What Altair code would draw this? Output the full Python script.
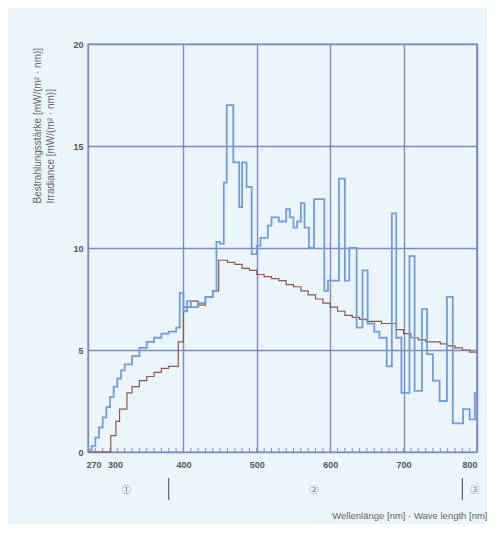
import altair as alt
import pandas as pd

# ---- data ----
blue_nm = [270, 275, 280, 285, 290, 295, 300, 305, 310, 315, 320, 330, 340, 350, 360, 370, 380, 390,
           395, 400, 405, 410, 420, 430, 440, 445, 450, 455, 459, 468, 476, 480, 486, 493, 500, 505,
           515, 520, 530, 540, 545, 550, 555, 560, 565, 571, 578, 592, 597, 612, 620, 626, 636, 644,
           651, 660, 667, 677, 684, 690, 697, 708, 715, 725, 732, 740, 749, 759, 767, 781, 790, 797, 800]
blue_val = [0.1, 0.3, 0.7, 1.2, 1.7, 2.2, 2.7, 3.2, 3.6, 4.0, 4.3, 4.7, 5.1, 5.4, 5.6, 5.8, 5.9, 6.1,
            7.8, 6.9, 7.4, 7.1, 7.3, 7.6, 7.9, 10.3, 10.2, 13.2, 17.0, 14.2, 12.0, 14.2, 13.0, 9.7, 10.1, 10.5,
            11.1, 11.5, 11.3, 11.9, 11.5, 11.0, 11.3, 12.2, 11.0, 10.0, 12.4, 7.9, 8.4, 13.4, 8.4, 10.0, 6.1, 8.9,
            6.3, 5.9, 5.6, 4.2, 11.7, 5.6, 2.9, 9.6, 3.0, 7.0, 4.8, 3.5, 2.5, 7.6, 1.4, 2.1, 1.6, 2.9, 2.9]

brown_nm = [270, 301, 308, 313, 323, 330, 340, 350, 360, 370, 380, 393, 400, 410, 420, 430, 440, 448,
            460, 470, 480, 490, 500, 510, 520, 530, 540, 550, 560, 570, 580, 590, 600, 610, 620, 630,
            640, 650, 660, 670, 680, 690, 700, 710, 720, 730, 740, 750, 760, 770, 780, 790, 800]
brown_val = [0.0, 0.8, 1.5, 2.1, 2.9, 3.2, 3.5, 3.7, 3.9, 4.1, 4.2, 5.4, 7.1, 7.4, 7.2, 7.6, 7.9, 9.4,
             9.3, 9.2, 9.0, 8.9, 8.7, 8.6, 8.5, 8.4, 8.2, 8.1, 7.9, 7.7, 7.5, 7.3, 7.1, 6.9, 6.7, 6.6,
             6.5, 6.4, 6.4, 6.3, 6.3, 6.0, 5.8, 5.6, 5.5, 5.4, 5.4, 5.3, 5.2, 5.1, 5.0, 4.9, 4.9]

x_labels = [270, 300, 400, 500, 600, 700, 800]
y_labels = [0, 5, 10, 15, 20]
minor_ticks = list(range(280, 800, 10))
region_bounds = [380, 780]
region_pos = [322, 578, 797]
region_text = ["①", "②", "③"]

W, H = 389, 408
GRID = "#7f8cbf"
BG = "#eaf5fc"

xs = alt.Scale(domain=[270, 800], nice=False, zero=False)
ys = alt.Scale(domain=[0, 20], nice=False)

blue_df = pd.DataFrame({"nm": blue_nm, "v": blue_val})
brown_df = pd.DataFrame({"nm": brown_nm, "v": brown_val})

x_axis = alt.Axis(values=x_labels, grid=True, gridColor=GRID, gridWidth=1.4,
                  gridOpacity=alt.ExprRef("datum.value == 300 ? 0 : 1"),
                  ticks=False, domainColor=GRID, labelFontSize=9, labelColor="#555",
                  labelFont="Liberation Sans", labelPadding=8, labelFontWeight="bold",
                  labelOverlap=False,
                  labelOffset=alt.ExprRef("datum.value == 270 ? -2 : (datum.value == 300 ? 5 : 0)"),
                  title="Wellenlänge [nm] · Wave length [nm]", titleFontSize=9.5,
                  titleFontWeight="normal", titleColor="#666", titleFont="Liberation Sans",
                  titleX=W + 10, titleY=63, titleAlign="right", titleAnchor="end",
                  titleBaseline="middle")
y_axis = alt.Axis(values=y_labels, grid=True, gridColor=GRID, gridWidth=1.4, ticks=False,
                  domainColor=GRID, labelFontSize=9, labelColor="#555", labelPadding=5,
                  labelFont="Liberation Sans", labelFontWeight="bold",
                  title=["Bestrahlungsstärke [mW/(m² · nm)]", "Irradiance [mW/(m² · nm)]"],
                  titleFontSize=10, titleFontWeight="normal", titleColor="#666",
                  titleFont="Liberation Sans", titleAngle=270, titleAlign="left",
                  titleX=-56, titleY=159, titleBaseline="top", titleLineHeight=13)

blue = alt.Chart(blue_df).mark_line(interpolate="step-after", color="#729dd8",
                                    strokeWidth=1.8).encode(
    x=alt.X("nm:Q", scale=xs, axis=x_axis),
    y=alt.Y("v:Q", scale=ys, axis=y_axis),
)
brown = alt.Chart(brown_df).mark_line(interpolate="step-after", color="#8c5a4c",
                                      strokeWidth=1.2).encode(
    x=alt.X("nm:Q", scale=xs),
    y=alt.Y("v:Q", scale=ys),
)

ticks = alt.Chart(pd.DataFrame({"nm": minor_ticks})).mark_rule(color=GRID, strokeWidth=1).encode(
    x=alt.X("nm:Q", scale=xs), y=alt.value(H), y2=alt.value(H - 4))

bounds = alt.Chart(pd.DataFrame({"nm": region_bounds})).mark_rule(color="#444", strokeWidth=1,
                                                                  clip=False).encode(
    x=alt.X("nm:Q", scale=xs), y=alt.value(H + 26), y2=alt.value(H + 48))

regions = alt.Chart(pd.DataFrame({"nm": region_pos, "t": region_text})).mark_text(
    font="Noto Sans CJK JP", fontSize=9, color="#666", clip=False, baseline="middle").encode(
    x=alt.X("nm:Q", scale=xs), y=alt.value(H + 38), text="t:N")

right_border = alt.Chart(pd.DataFrame({"nm": [800]})).mark_rule(color=GRID, strokeWidth=1.4).encode(
    x=alt.X("nm:Q", scale=xs), y=alt.value(0), y2=alt.value(H))

chart = alt.layer(ticks, right_border, brown, blue, bounds, regions).properties(
    width=W, height=H,
    padding={"left": 80, "top": 36, "right": 10, "bottom": 72},
    autosize=alt.AutoSizeParams(type="none"),
    background=BG,
).configure_view(fill=BG, stroke=GRID, strokeWidth=1.4)

chart.save("out.html", embed_options={"renderer": "svg", "actions": False})
